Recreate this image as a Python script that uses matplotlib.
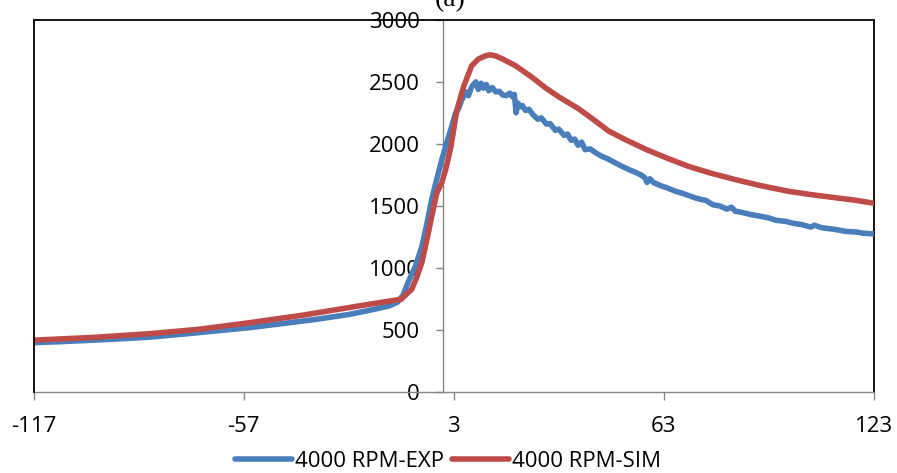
import matplotlib
matplotlib.use("Agg")
import matplotlib.pyplot as plt
from matplotlib.lines import Line2D

# ---------------- data ----------------
sim_x = [-117, -100, -84, -70, -55, -40, -25, -15, -12, -11.2, -9.0, -7.5, -6.1, -4.5,
         -3.3, -1.8, -0.4, 0.7, 2.2, 3.9, 5.9, 8.1, 10.0, 12.1, 13.5, 15.0, 17.0, 20.7,
         25.0, 29.2, 33.0, 38.6, 43.0, 47.2, 52.0, 58.0, 64.0, 70.0, 76.0, 83.4, 90.0,
         98.5, 105.0, 111.9, 118.0, 123.0]
sim_y = [418, 440, 470, 505, 560, 620, 690, 735, 748, 770, 828, 930, 1045, 1250,
         1415, 1608, 1690, 1795, 1980, 2276, 2470, 2630, 2685, 2712, 2719, 2710, 2685, 2630,
         2545, 2453, 2380, 2285, 2195, 2105, 2035, 1955, 1885, 1820, 1768, 1713, 1668,
         1619, 1592, 1567, 1545, 1522]

exp_x = [-117, -110, -100, -90, -84, -75, -65, -55, -45, -36, -27, -20, -15.5, -13,
         -11.5, -9.8, -8.0, -6.1, -4.5, -3.3, -2.0, -0.4, 1.0, 2.4, 3.5, 4.3, 5.3, 6.5,
         7.2, 8.1, 9.3, 10.0, 10.8, 11.5, 12.3, 13.0, 14.0, 15.0, 16.0, 17.0, 18.0, 19.0,
         19.8, 20.3, 20.8, 21.3, 22.0, 22.6, 23.5, 24.5, 25.5, 27.0, 28.0, 29.5, 30.5,
         32.0, 33.0, 34.5, 35.5, 36.5, 37.5, 38.5, 39.5, 40.5, 42.0, 43.5, 45.2, 47.0,
         49.0, 51.0, 53.0, 55.0, 56.5, 57.5, 58.2, 59.0, 60.0, 62.0, 64.0, 66.3, 68.0,
         70.0, 72.0, 73.7, 75.0, 77.0, 79.0, 81.0, 82.3, 83.4, 85.0, 88.0, 90.0, 92.8,
         95.0, 98.0, 100.0, 102.2, 105.0, 106.0, 108.0, 111.9, 115.0, 118.0, 120.0, 123.0]
exp_y = [398, 405, 418, 432, 442, 465, 492, 520, 555, 587, 625, 665, 694, 725,
         780, 900, 1010, 1174, 1380, 1552, 1700, 1874, 2010, 2140, 2250, 2280, 2357, 2420,
         2390, 2461, 2501, 2440, 2490, 2450, 2480, 2430, 2455, 2420, 2425, 2395, 2390, 2410,
         2380, 2400, 2252, 2330, 2300, 2310, 2270, 2280, 2240, 2200, 2210, 2160, 2165,
         2110, 2120, 2070, 2080, 2030, 2040, 1990, 2015, 1955, 1960, 1930, 1901, 1880,
         1850, 1820, 1794, 1770, 1750, 1730, 1690, 1720, 1690, 1665, 1645, 1619, 1605,
         1585, 1565, 1552, 1545, 1510, 1500, 1475, 1490, 1458, 1450, 1430, 1420, 1405,
         1385, 1375, 1360, 1351, 1330, 1345, 1325, 1311, 1295, 1290, 1280, 1275]

x_ticks = [-117, -57, 3, 63, 123]
y_ticks = [0, 500, 1000, 1500, 2000, 2500, 3000]
series_labels = ["4000 RPM-EXP", "4000 RPM-SIM"]
title_text = "(a)"

BLUE = "#4A7EBB"
RED = "#BE4B48"
GRAY = "#868686"

plt.rcParams['font.family'] = ['Open Sans', 'DejaVu Sans']

W, H = 897, 473
fig = plt.figure(figsize=(W / 100, H / 100), dpi=100)
L, R, T, B = 33.5, 874, 20, 392
ax = fig.add_axes([L / W, 1 - B / H, (R - L) / W, (B - T) / H])

ax.plot(exp_x, exp_y, color=BLUE, lw=4.0, solid_capstyle='round',
        solid_joinstyle='round', label=series_labels[0], zorder=3)
ax.plot(sim_x, sim_y, color=RED, lw=4.0, solid_capstyle='round',
        solid_joinstyle='round', label=series_labels[1], zorder=4)

ax.set_xlim(-117, 123)
ax.set_ylim(0, 3000)
ax.set_xticks(x_ticks)
ax.set_xticklabels([str(v) for v in x_ticks])
ax.set_yticks(y_ticks)
ax.set_yticklabels([str(v) for v in y_ticks])

# y axis crossing at x=0
ax.spines['left'].set_position(('data', 0))
ax.spines['left'].set_color(GRAY)
ax.spines['left'].set_linewidth(1.0)
ax.spines['bottom'].set_color(GRAY)
ax.spines['bottom'].set_linewidth(1.0)
for s in ('top', 'right'):
    ax.spines[s].set_color('black')
    ax.spines[s].set_linewidth(1.3)
ax.spines['left'].set_zorder(2)
# left black frame edge
ax.add_line(Line2D([0, 0], [0, 1], transform=ax.transAxes, color='black',
                   lw=1.3, clip_on=False, zorder=5))

ax.tick_params(axis='x', direction='out', length=6, width=1.0, color=GRAY,
               pad=11, labelsize=16, labelcolor='black')
ax.tick_params(axis='y', direction='out', length=5, width=1.0, color=GRAY,
               pad=12, labelsize=16, labelcolor='black')

fig.text(450 / W, 1 - 6 / H, title_text, fontsize=20, family='Liberation Serif',
         ha='center', va='baseline')

fig.legend(loc='center', bbox_to_anchor=(448 / W, 1 - 461 / H), ncol=2,
           frameon=False, fontsize=16, handlelength=2.55, handletextpad=0.12,
           columnspacing=0.4, borderpad=0, borderaxespad=0)

fig.savefig("out.png", dpi=100)
